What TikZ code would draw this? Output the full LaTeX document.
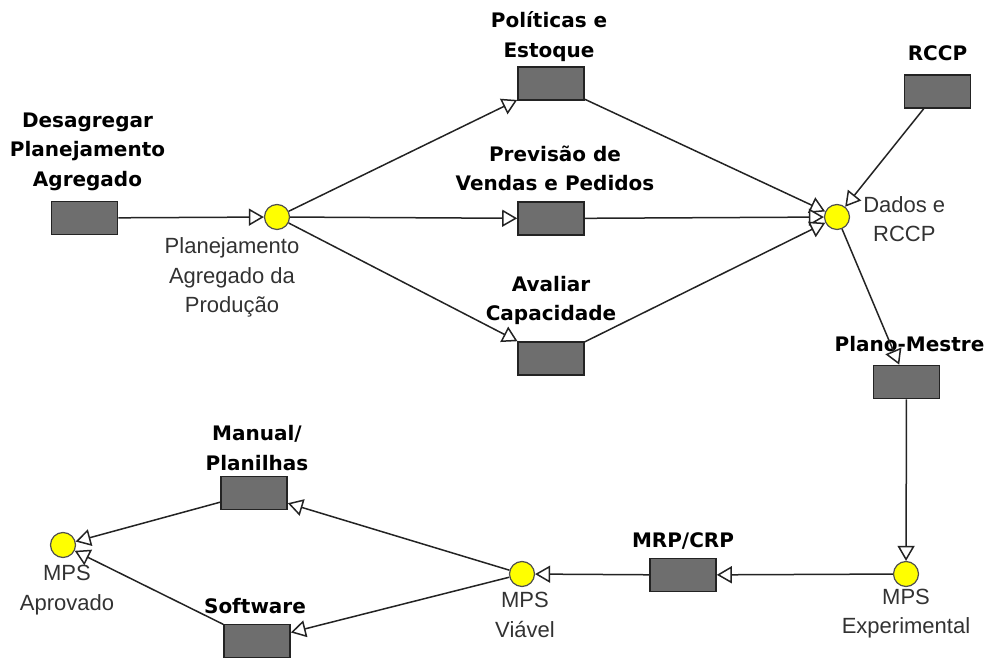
\documentclass[tikz,border=0pt]{standalone}
\usepackage{fontspec}
\setmainfont{Liberation Sans}
\newfontfamily\rotulofont{DejaVu Sans}
\usepackage{xcolor}
\usepackage{tikz}
\usetikzlibrary{arrows.meta,positioning}
\definecolor{mpsgray}{RGB}{110,110,110}
\definecolor{mpsyellow}{RGB}{255,255,0}
\definecolor{mpsline}{RGB}{35,35,35}
\definecolor{mpstext}{RGB}{50,50,50}

\begin{document}
\begin{tikzpicture}[x=1pt, y=1pt, >={Triangle[length=15pt,width=17pt,fill=white]},
    atividade/.style={draw=mpsline, fill=mpsgray, line width=1.6pt, rectangle, minimum width=66pt, minimum height=33pt, inner sep=0pt},
    evento/.style={draw=mpsline!80, fill=mpsyellow, line width=1.2pt, circle, minimum size=25pt, inner sep=0pt},
    titulo/.style={align=center, inner sep=0pt, font=\rotulofont\bfseries\fontsize{20}{29.5}\selectfont},
    legenda/.style={align=center, inner sep=0pt, text=mpstext, font=\fontsize{22}{29.5}\selectfont},
    fluxo/.style={->, draw=mpsline, line width=1.5pt}]
    \useasboundingbox (0,0) rectangle (992,660);

    % atividades
    \node [atividade] (desag) at (84.5,442) {};
    \node [atividade] (polit) at (551,576.5) {};
    \node [atividade] (prev) at (551,441.5) {};
    \node [atividade] (aval) at (551,301.5) {};
    \node [atividade] (rccp) at (937.5,568.5) {};
    \node [atividade] (mestre) at (906.5,278) {};
    \node [atividade] (mrp) at (683,85) {};
    \node [atividade] (manual) at (254,167) {};
    \node [atividade] (software) at (257,19) {};

    % eventos
    \node [evento] (plan) at (277,443) {};
    \node [evento] (dados) at (837,443) {};
    \node [evento] (mpsexp) at (906,86) {};
    \node [evento] (viavel) at (522,86) {};
    \node [evento] (aprov) at (63,115) {};

    % titulos das atividades
    \node [titulo, above=10pt of desag, xshift=3pt] (desag-t) {Desagregar\\Planejamento\\Agregado};
    \node [titulo, above=4.5pt of polit, xshift=-2pt] (polit-t) {Políticas e\\Estoque};
    \node [titulo, above=10pt of prev, xshift=4pt] (prev-t) {Previsão de\\Vendas e Pedidos};
    \node [titulo, above=16pt of aval] (aval-t) {Avaliar\\Capacidade};
    \node [titulo, above=13pt of rccp] (rccp-t) {RCCP};
    \node [titulo, above=13pt of mestre, xshift=3pt] (mestre-t) {Plano-Mestre};
    \node [titulo, above=8pt of mrp] (mrp-t) {MRP/CRP};
    \node [titulo, above=5pt of manual, xshift=3pt] (manual-t) {Manual/\\Planilhas};
    \node [titulo, above=10pt of software, xshift=-2pt] (software-t) {Software};

    % legendas dos eventos
    \node [legenda, below=7.5pt of plan, xshift=-45pt] (plan-l) {Planejamento\\Agregado da\\Produção};
    \node [legenda, right=13pt of dados, yshift=-2pt] (dados-l) {Dados e\\RCCP};
    \node [legenda, below=1.5pt of mpsexp] (mpsexp-l) {MPS\\Experimental};
    \node [legenda, below=5pt of viavel, xshift=3pt] (viavel-l) {MPS\\Viável};
    \node [legenda, below=7pt of aprov, xshift=4pt] (aprov-l) {MPS\\Aprovado};

    % fluxos
    \draw [fluxo] (desag) -- (plan);
    \draw [fluxo] (plan) -- (polit);
    \draw [fluxo] (plan) -- (prev);
    \draw [fluxo] (plan) -- (aval);
    \draw [fluxo] (polit) -- (dados);
    \draw [fluxo] (prev) -- (dados);
    \draw [fluxo] (aval) -- (dados);
    \draw [fluxo] (rccp) -- (dados);
    \draw [fluxo] (dados) -- (mestre);
    \draw [fluxo] (mestre) -- (mpsexp);
    \draw [fluxo] (mpsexp) -- (mrp);
    \draw [fluxo] (mrp) -- (viavel);
    \draw [fluxo] (viavel) -- (manual);
    \draw [fluxo] (viavel) -- (software);
    \draw [fluxo] (manual) -- (aprov);
    \draw [fluxo] (software) -- (aprov);
\end{tikzpicture}
\end{document}
